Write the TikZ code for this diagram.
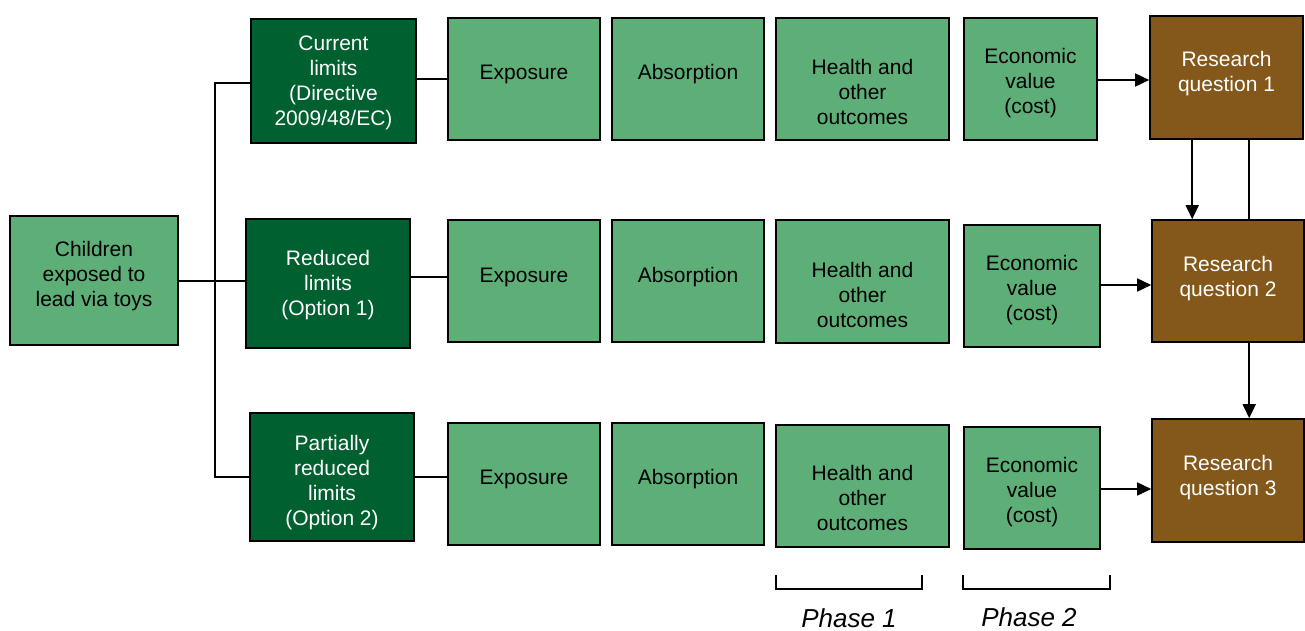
\documentclass[tikz,border=0pt]{standalone}
\usepackage{fontspec}
\setmainfont{Liberation Sans}
\usetikzlibrary{arrows.meta,calc}
\definecolor{lgreen}{HTML}{5EAE78}
\definecolor{dgreen}{HTML}{00602F}
\definecolor{rqbrown}{HTML}{83581A}
\begin{document}
\begin{tikzpicture}[x=1pt,y=-1pt,
  base/.style={draw=black,line width=1.6pt,inner sep=0pt},
  lbox/.style={base,fill=lgreen},
  dbox/.style={base,fill=dgreen},
  rbox/.style={base,fill=rqbrown},
  btxt/.style={align=center,text=black,font=\fontsize{21}{25}\selectfont},
  wtxt/.style={align=center,text=white,font=\fontsize{21}{25}\selectfont},
  phase/.style={inner sep=0pt,font=\fontsize{26}{30}\selectfont\itshape},
  conn/.style={line width=1.6pt},
  arr/.style={line width=1.6pt,-{Triangle[length=14pt,width=13pt]}}]
\useasboundingbox (0,0) rectangle (1305,631);
% left
\node[lbox,minimum width=168pt,minimum height=129pt,label={[btxt,yshift=4pt]center:{Children\\exposed to\\lead via toys}}] (children) at (94,280.5) {};
% row 1
\node[dbox,minimum width=165pt,minimum height=124pt,label={[wtxt,yshift=-1.5pt]center:{Current\\limits\\(Directive\\2009/48/EC)}}] (cur) at (333.5,81) {};
\node[lbox,minimum width=152pt,minimum height=122pt,label={[btxt,yshift=5pt]center:Exposure}] (exp1) at (524,79) {};
\node[lbox,minimum width=152pt,minimum height=122pt,label={[btxt,yshift=5pt]center:Absorption}] (abs1) at (688,79) {};
\node[lbox,minimum width=173pt,minimum height=122pt,label={[btxt,yshift=-13pt]center:{Health and\\other\\outcomes}}] (hea1) at (862.5,79) {};
\node[lbox,minimum width=133pt,minimum height=122pt,label={[btxt,yshift=-4pt]center:{Economic\\value\\(cost)}}] (eco1) at (1030.5,79) {};
\node[rbox,minimum width=153pt,minimum height=123pt,label={[wtxt,yshift=4pt]center:{Research\\question 1}}] (rq1) at (1226.5,77.5) {};
% row 2
\node[dbox,minimum width=164pt,minimum height=129pt,label={[wtxt,yshift=-2pt]center:{Reduced\\limits\\(Option 1)}}] (red) at (328,283.5) {};
\node[lbox,minimum width=152pt,minimum height=122pt,label={[btxt,yshift=4pt]center:Exposure}] (exp2) at (524,281) {};
\node[lbox,minimum width=152pt,minimum height=122pt,label={[btxt,yshift=4pt]center:Absorption}] (abs2) at (688,281) {};
\node[lbox,minimum width=173pt,minimum height=123pt,label={[btxt,yshift=-13pt]center:{Health and\\other\\outcomes}}] (hea2) at (862.5,281.5) {};
\node[lbox,minimum width=136pt,minimum height=122pt,label={[btxt,yshift=-4pt]center:{Economic\\value\\(cost)}}] (eco2) at (1032,286) {};
\node[rbox,minimum width=152pt,minimum height=122pt,label={[wtxt,yshift=2.5pt]center:{Research\\question 2}}] (rq2) at (1228,281) {};
% row 3
\node[dbox,minimum width=164pt,minimum height=128pt,label={[wtxt,yshift=-5.5pt]center:{Partially\\reduced\\limits\\(Option 2)}}] (par) at (332,477) {};
\node[lbox,minimum width=152pt,minimum height=122pt,label={[btxt,yshift=5pt]center:Exposure}] (exp3) at (524,484) {};
\node[lbox,minimum width=152pt,minimum height=122pt,label={[btxt,yshift=5pt]center:Absorption}] (abs3) at (688,484) {};
\node[lbox,minimum width=173pt,minimum height=122pt,label={[btxt,yshift=-12pt]center:{Health and\\other\\outcomes}}] (hea3) at (862.5,486) {};
\node[lbox,minimum width=136pt,minimum height=122pt,label={[btxt,yshift=-4pt]center:{Economic\\value\\(cost)}}] (eco3) at (1032,488) {};
\node[rbox,minimum width=152pt,minimum height=123pt,label={[wtxt,yshift=2.5pt]center:{Research\\question 3}}] (rq3) at (1228,480.5) {};
% tree
\coordinate (t1) at (215,83);
\coordinate (t3) at (215,477);
\draw[conn] (cur.west |- t1) -- (t1) -- (t3) -- (t3 -| par.west);
\draw[conn] (children.east |- 0,281) -- (red.west |- 0,281);
\draw[conn] (cur.east |- exp1.west) -- (exp1.west);
\draw[conn] (red.east |- 0,277) -- (exp2.west |- 0,277);
\draw[conn] (par.east) -- (par.east -| exp3.west);
% to research questions
\draw[arr] (eco1.east |- 0,80) -- (rq1.west |- 0,80);
\draw[arr] (eco2.east |- 0,285) -- (rq2.west |- 0,285);
\draw[arr] (eco3.east |- 0,489) -- (rq3.west |- 0,489);
\coordinate (a) at ([xshift=43pt]rq1.south west);
\coordinate (b) at ([xshift=100pt]rq1.south west);
\draw[arr] (a) -- (a |- rq2.north);
\draw[conn] (b) -- (b |- rq2.north);
\draw[arr] (b |- rq2.south) -- (b |- rq3.north);
% phases
\draw[line width=1.3pt] (776,575) -- (776,589) -- (922,589) -- (922,575);
\draw[line width=1.3pt] (963,575) -- (963,589) -- (1110,589) -- (1110,575);
\node[phase] (ph1) at (849,618) {Phase 1};
\node[phase] (ph2) at (1029,617) {Phase 2};
\end{tikzpicture}
\end{document}
